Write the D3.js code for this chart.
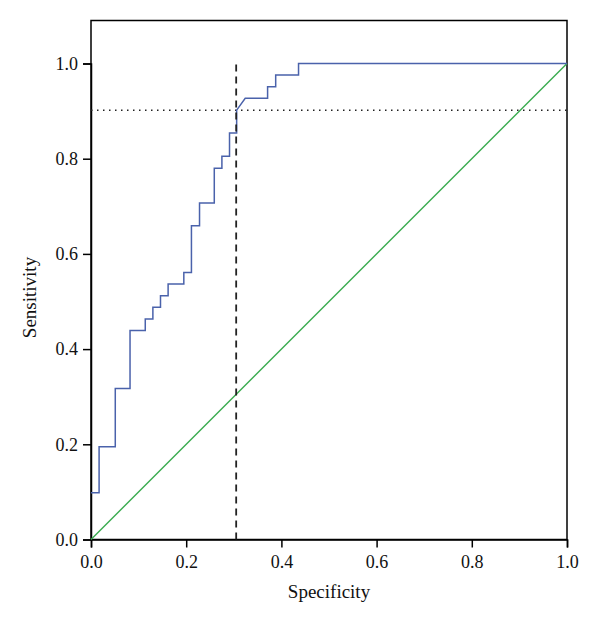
<!DOCTYPE html>
<html><head><meta charset="utf-8">
<script src="https://cdn.jsdelivr.net/npm/d3@7"></script>
<style>body{margin:0;background:#fff}svg{display:block}</style>
</head><body><svg id="c" width="600" height="626"></svg>
<script>
const rocSpec = [0,0.017,0.017,0.051,0.051,0.082,0.082,0.114,0.114,0.130,0.130,0.146,0.146,0.162,0.162,0.195,0.195,0.211,0.211,0.228,0.228,0.259,0.259,0.275,0.275,0.291,0.291,0.306,0.306,0.324,0.371,0.371,0.388,0.388,0.436,0.436,1.0];
const rocSens = [0.098,0.098,0.195,0.195,0.317,0.317,0.439,0.439,0.463,0.463,0.488,0.488,0.512,0.512,0.537,0.537,0.561,0.561,0.659,0.659,0.707,0.707,0.780,0.780,0.805,0.805,0.854,0.854,0.902,0.927,0.927,0.951,0.951,0.976,0.976,1.0,1.0];
const refSpec = [0,1];
const refSens = [0,1];
const cutoffSpec = 0.305;
const cutoffSens = 0.902;
const ticks = [0,0.2,0.4,0.6,0.8,1.0];

const FONT = '"Liberation Serif", "Times New Roman", serif';
const svg = d3.select("#c");
const L=91,R=567,T=20.5,B=539.5;
const x = d3.scaleLinear().domain([0,1]).range([L,R]);
const y = d3.scaleLinear().domain([0,1]).range([B,B-476]);

svg.append("rect").attr("x",L).attr("y",T).attr("width",R-L).attr("height",B-T)
  .attr("fill","none").attr("stroke","#000").attr("stroke-width",1.5);

const xa = svg.append("g").attr("transform",`translate(0,${B})`)
  .call(d3.axisBottom(x).tickValues(ticks).tickFormat(d3.format(".1f")).tickSize(8).tickPadding(8));
const ya = svg.append("g").attr("transform",`translate(${L},0)`)
  .call(d3.axisLeft(y).tickValues(ticks).tickFormat(d3.format(".1f")).tickSize(8).tickPadding(5));
[xa,ya].forEach(a=>{
  a.attr("font-family",FONT).attr("font-size",18);
  a.selectAll("path").attr("stroke","#000").attr("stroke-width",1.5);
  a.selectAll("line").attr("stroke","#000").attr("stroke-width",1.5);
  a.selectAll("text").attr("fill","#111");
});

const line = d3.line().x(d=>x(d[0])).y(d=>y(d[1]));
svg.append("path").datum(d3.zip(refSpec,refSens)).attr("d",line)
  .attr("fill","none").attr("stroke","#3aab4f").attr("stroke-width",1.4);
svg.append("path").datum([[0,cutoffSens],[1,cutoffSens]]).attr("d",line)
  .attr("fill","none").attr("stroke","#222").attr("stroke-width",1.5).attr("stroke-dasharray","1.5,4.5");
svg.append("path").datum(d3.zip(rocSpec,rocSens)).attr("d",line)
  .attr("fill","none").attr("stroke","#4a62ab").attr("stroke-width",1.5);
svg.append("path").datum([[cutoffSpec,0],[cutoffSpec,1]]).attr("d",line)
  .attr("fill","none").attr("stroke","#222").attr("stroke-width",1.8).attr("stroke-dasharray","7,5");

svg.append("text").attr("x",(L+R)/2).attr("y",598).attr("text-anchor","middle")
  .attr("font-family",FONT).attr("font-size",19).attr("fill","#111").text("Specificity");
svg.append("text").attr("transform",`translate(36,297.5) rotate(-90)`).attr("text-anchor","middle")
  .attr("font-family",FONT).attr("font-size",19).attr("fill","#111").text("Sensitivity");
</script></body></html>
